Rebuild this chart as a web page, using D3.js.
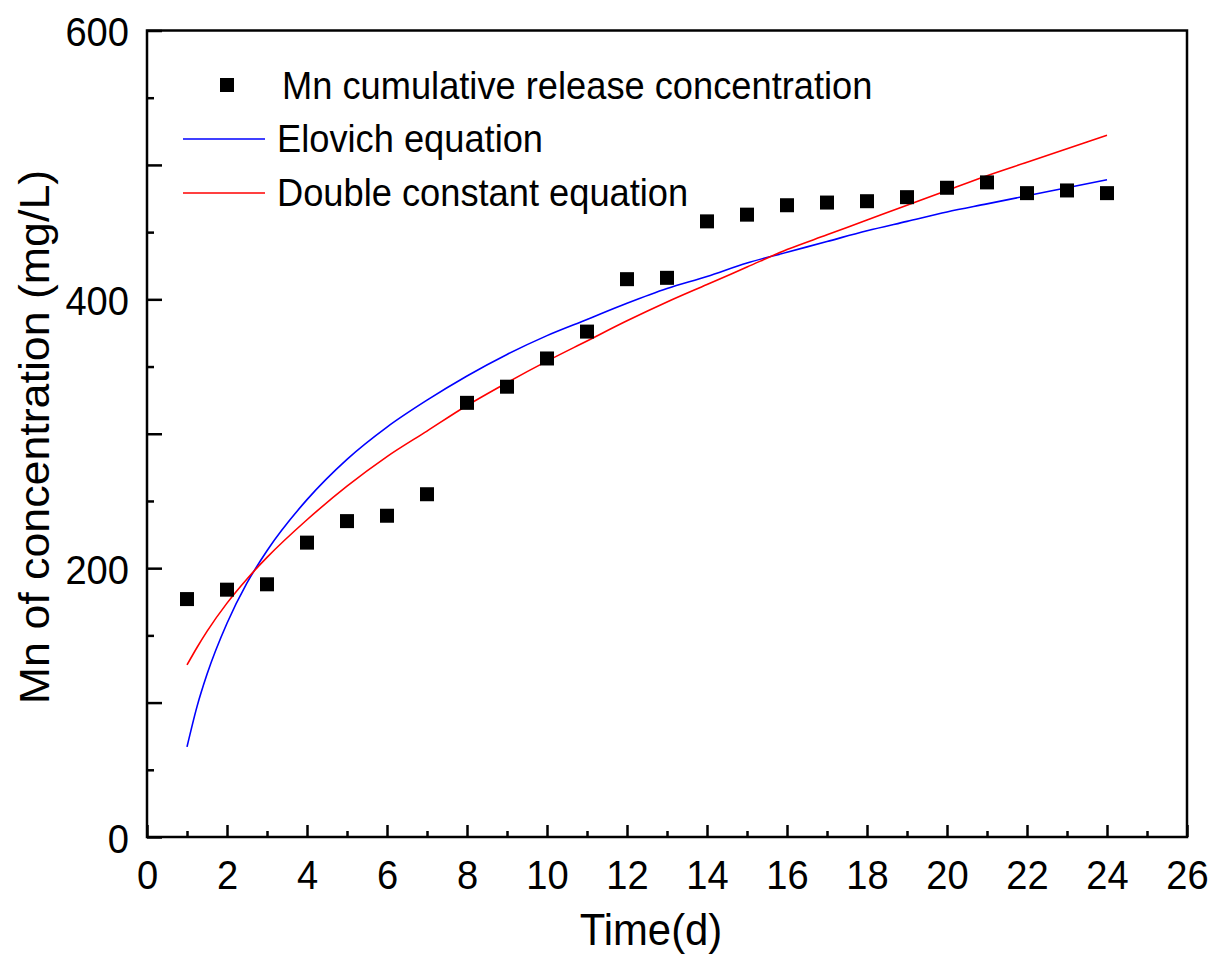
<!DOCTYPE html>
<html>
<head>
<meta charset="utf-8">
<script src="https://cdn.jsdelivr.net/npm/d3@7/dist/d3.min.js"></script>
<style>
  html, body { margin: 0; padding: 0; background: #fff; }
  svg { display: block; }
  text { font-family: "Liberation Sans", Arial, sans-serif; fill: #000; }
</style>
</head>
<body>
<svg id="chart" width="1213" height="962"></svg>
<script>
// ---- data ----
const days = [1,2,3,4,5,6,7,8,9,10,11,12,13,14,15,16,17,18,19,20,21,22,23,24];
const mnRelease = [177,184,188,219,235,239,255,323,335,356,376,415,416,458,463,470,472,473,476,483,487,479,481,479];

const fitT = [1,1.25,1.5,2,2.5,3,4,5,6,7,8,9,10,11,12,13,14,15,16,17,18,19,20,21,22,23,24];
const elovich = [67,97,121,159,189,213,251,281,305,325,343,359,373,385,397,408,417,427,435,443,451,458,465,471,477,483,489];
const doubleConst = [128,141,153,174,192,208,236,261,283,302,321,338,354,369,384,398,411,424,437,448,459,470,481,492,502,512,522];

const xTicks = [0,2,4,6,8,10,12,14,16,18,20,22,24,26];
const xMinor = [1,3,5,7,9,11,13,15,17,19,21,23,25];
const yTicks = [0,100,200,300,400,500,600];
const yLabeled = [0,200,400,600];
const yMinor = [50,150,250,350,450,550];

const legendLabels = ["Mn cumulative release concentration", "Elovich equation", "Double constant equation"];
const xTitle = "Time(d)";
const yTitle = "Mn of concentration (mg/L)";

// ---- layout ----
const svg = d3.select("#chart");
const L = 147, R = 1187, T = 30.5, B = 837;
const SX = 0.93; // horizontal text compression to match reference glyphs
const x = d3.scaleLinear().domain([0, 26]).range([L, R]);
const y = d3.scaleLinear().domain([0, 600]).range([B, T]);

// axes
const gx = svg.append("g").attr("transform", `translate(0,${B})`)
  .call(d3.axisBottom(x).tickValues(xTicks).tickSizeInner(-12).tickSizeOuter(0).tickPadding(20).tickFormat(d3.format("d")));
gx.selectAll("text").attr("y", 0).attr("dy", null)
  .attr("transform", `translate(0,52) scale(${SX},1)`).style("font-size", "41px");
const gxm = svg.append("g").attr("transform", `translate(0,${B})`)
  .call(d3.axisBottom(x).tickValues(xMinor).tickSizeInner(-6).tickSizeOuter(0).tickFormat(""));

const gy = svg.append("g").attr("transform", `translate(${L},0)`)
  .call(d3.axisLeft(y).tickValues(yTicks).tickSizeInner(-15).tickSizeOuter(0)
    .tickFormat(d => yLabeled.includes(d) ? d3.format("d")(d) : ""));
gy.selectAll("text").attr("x", 0).attr("dy", null)
  .attr("transform", `translate(-18,15) scale(${SX},1)`).style("font-size", "41px");
const gym = svg.append("g").attr("transform", `translate(${L},0)`)
  .call(d3.axisLeft(y).tickValues(yMinor).tickSizeInner(-7).tickSizeOuter(0).tickFormat(""));

[gx, gxm, gy, gym].forEach(g => {
  g.select(".domain").remove();
  g.selectAll("line").attr("stroke", "#000").attr("stroke-width", 2.5);
});

// frame
svg.append("rect").attr("x", L).attr("y", T).attr("width", R - L).attr("height", B - T)
  .attr("fill", "none").attr("stroke", "#000").attr("stroke-width", 2.5);

// fitted curves
const line = d3.line().x(d => x(d[0])).y(d => y(d[1])).curve(d3.curveMonotoneX);
svg.append("path").datum(fitT.map((t, i) => [t, elovich[i]]))
  .attr("d", line).attr("fill", "none").attr("stroke", "#0000ff").attr("stroke-width", 1.6);
svg.append("path").datum(fitT.map((t, i) => [t, doubleConst[i]]))
  .attr("d", line).attr("fill", "none").attr("stroke", "#ff0000").attr("stroke-width", 1.6);

// data squares
const S = 14;
svg.append("g").selectAll("rect").data(days.map((d, i) => [d, mnRelease[i]])).join("rect")
  .attr("x", d => x(d[0]) - S / 2).attr("y", d => y(d[1]) - S / 2)
  .attr("width", S).attr("height", S).attr("fill", "#000");

// legend
function label(txt, tx, ty, size, extra, sx) {
  return svg.append("text").text(txt)
    .attr("transform", `translate(${tx},${ty})${extra || ""} scale(${sx || SX},1)`)
    .style("font-size", size + "px");
}
svg.append("rect").attr("x", 227 - S / 2).attr("y", 85 - S / 2).attr("width", S).attr("height", S).attr("fill", "#000");
label(legendLabels[0], 282, 99, 39);
svg.append("line").attr("x1", 183).attr("x2", 265).attr("y1", 139).attr("y2", 139).attr("stroke", "#0000ff").attr("stroke-width", 1.6);
label(legendLabels[1], 277, 152, 39);
svg.append("line").attr("x1", 183).attr("x2", 265).attr("y1", 193).attr("y2", 193).attr("stroke", "#ff0000").attr("stroke-width", 1.6);
label(legendLabels[2], 277, 206, 39);

// axis titles
label(xTitle, 651, 945, 45).attr("text-anchor", "middle");
label(yTitle, 49, 437, 43, " rotate(-90)", 1.04).attr("text-anchor", "middle");
</script>
</body>
</html>
